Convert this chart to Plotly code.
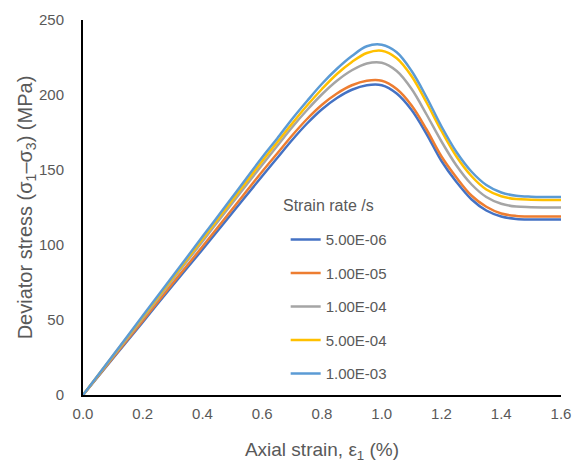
import plotly.graph_objects as go

strain = [0, 0.1, 0.2, 0.3, 0.4, 0.5, 0.6, 0.65, 0.7, 0.75, 0.8, 0.85, 0.9, 0.95, 1.0,
          1.05, 1.1, 1.15, 1.2, 1.25, 1.3, 1.35, 1.4, 1.45, 1.5, 1.6]

rate_labels = ["5.00E-06", "1.00E-05", "1.00E-04", "5.00E-04", "1.00E-03"]
colors = ["#4472C4", "#ED7D31", "#A5A5A5", "#FFC000", "#5B9BD5"]

stress_5e06 = [0, 24.3, 48.6, 73, 97, 121.5, 146, 158, 170, 181, 190.5, 198, 203.5, 206.5, 206.5,
               201, 190, 174, 156, 142, 130.5, 123, 119, 117.4, 117, 117]
stress_1e05 = [0, 24.8, 49.6, 74.4, 99, 124, 149, 161, 173, 184, 193.5, 201, 206.5, 209.5, 209.5,
               204, 193, 177, 159, 145, 133, 125.5, 121, 119.4, 119, 119]
stress_1e04 = [0, 25.6, 51.2, 76.8, 102.4, 128, 153.5, 166, 178.5, 190, 200.5, 209.5, 216.5, 221, 221.5,
               216, 204, 187, 169, 153, 140.5, 132, 127.5, 125.6, 125.2, 125]
stress_5e04 = [0, 26, 52, 78, 104, 130, 156, 168.5, 181, 193, 204, 214, 222, 228, 229.5,
               224.5, 212.5, 195, 176, 159, 146, 137, 132.5, 130.6, 130.2, 130]
stress_1e03 = [0, 26.4, 52.8, 79.2, 105.6, 132, 158.5, 171, 184, 196, 207.5, 217.5, 226, 232.5, 233.5,
               228.5, 216, 198.5, 179, 162, 149, 140, 135, 132.8, 132.2, 132]

series = [stress_5e06, stress_1e05, stress_1e04, stress_5e04, stress_1e03]

x_ticks = [0, 0.2, 0.4, 0.6, 0.8, 1.0, 1.2, 1.4, 1.6]
y_ticks = [0, 50, 100, 150, 200, 250]

fig = go.Figure()
for lab, col, ys in zip(rate_labels, colors, series):
    fig.add_trace(go.Scatter(x=strain, y=ys, mode="lines", name=lab, legendgroup=lab,
                             line=dict(color=col, width=2.5, shape="spline", smoothing=1)))

font_family = "Liberation Sans, Arial, sans-serif"
grey = "#595959"
fig.update_layout(
    width=572, height=464,
    margin=dict(l=83, r=11, t=20, b=69, autoexpand=False),
    paper_bgcolor="white", plot_bgcolor="white",
    font=dict(family=font_family, color=grey, size=15),
    showlegend=True,
    legend=dict(
        x=0.424, y=0.458, xanchor="left", yanchor="top",
        font=dict(size=15, color=grey),
        tracegroupgap=11,
        bgcolor="rgba(0,0,0,0)",
    ),
    annotations=[dict(text="Strain rate /s", x=0.4137, y=0.505, xref="paper", yref="paper",
                      xanchor="left", yanchor="middle", showarrow=False,
                      font=dict(size=16, color=grey))],
    xaxis=dict(
        range=[0, 1.6], tickvals=x_ticks, tickformat=".1f", automargin=True,
        showline=True, linecolor="black", linewidth=2, showgrid=False, zeroline=False,
        ticks="", tickfont=dict(size=15, color=grey), ticklabelstandoff=4,
        title=dict(text="Axial strain, ε<sub>1</sub> (%)", font=dict(size=19, color=grey), standoff=22),
    ),
    yaxis=dict(
        range=[0, 250], tickvals=y_ticks, automargin=True,
        showline=True, linecolor="black", linewidth=2, showgrid=False, zeroline=False,
        ticks="", tickfont=dict(size=15, color=grey), ticklabelstandoff=14,
        title=dict(text="Deviator stress (σ<sub>1</sub>–σ<sub>3</sub>) (MPa)", font=dict(size=20, color=grey), standoff=0),
    ),
)

fig.write_html("out.html", config={"displayModeBar": False},
               post_script="document.body.style.margin='0';document.body.style.overflow='hidden';")
